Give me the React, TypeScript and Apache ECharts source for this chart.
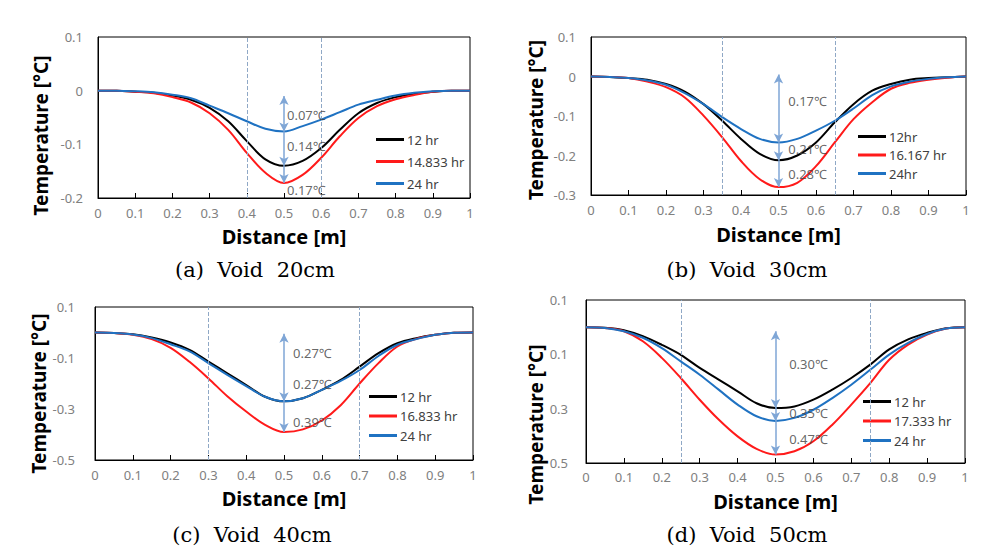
import React, { useEffect, useRef } from "react";
import * as echarts from "echarts";

// Distance positions [m]
const xs = [0, 0.05, 0.1, 0.15, 0.2, 0.25, 0.3, 0.35, 0.4, 0.45, 0.5, 0.55, 0.6, 0.65, 0.7, 0.75, 0.8, 0.85, 0.9, 0.95, 1];

// (a) Void 20cm
const aNames = ["12 hr", "14.833 hr", "24 hr"];
const a12 = [0, 0, -0.002, -0.004, -0.009, -0.017, -0.032, -0.057, -0.094, -0.128, -0.14, -0.131, -0.107, -0.073, -0.042, -0.023, -0.012, -0.006, -0.002, 0, 0];
const a14 = [0, 0, -0.002, -0.005, -0.012, -0.022, -0.042, -0.073, -0.116, -0.153, -0.172, -0.157, -0.125, -0.085, -0.051, -0.029, -0.016, -0.008, -0.002, 0, 0];
const a24 = [0, 0, -0.001, -0.003, -0.0075, -0.014, -0.028, -0.042, -0.057, -0.071, -0.076, -0.066, -0.054, -0.04, -0.026, -0.017, -0.009, -0.004, -0.001, 0, 0];
const aVoid = [0.4, 0.6];
const aNotes = ["0.07℃", "0.14℃", "0.17℃"];
const aNoteAt = [[0.508, -0.045], [0.508, -0.104], [0.508, -0.186]];

// (b) Void 30cm
const bNames = ["12hr", "16.167 hr", "24hr"];
const b12 = [0, -0.001, -0.004, -0.008, -0.019, -0.038, -0.07, -0.112, -0.158, -0.196, -0.212, -0.2, -0.167, -0.116, -0.07, -0.036, -0.019, -0.008, -0.004, -0.002, 0];
const b16 = [0, -0.001, -0.004, -0.013, -0.027, -0.053, -0.099, -0.154, -0.214, -0.26, -0.28, -0.269, -0.227, -0.167, -0.108, -0.065, -0.031, -0.016, -0.008, -0.003, 0];
const b24 = [0, -0.001, -0.004, -0.01, -0.021, -0.042, -0.07, -0.103, -0.133, -0.158, -0.167, -0.158, -0.137, -0.112, -0.081, -0.047, -0.025, -0.013, -0.006, -0.002, 0];
const bVoid = [0.35, 0.65];
const bNotes = ["0.17℃", "0.21℃", "0.28℃"];
const bNoteAt = [[0.526, -0.061], [0.526, -0.184], [0.526, -0.247]];

// (c) Void 40cm
const cNames = ["12 hr", "16.833 hr", "24 hr"];
const c12 = [0, -0.002, -0.007, -0.02, -0.039, -0.068, -0.114, -0.16, -0.206, -0.252, -0.27, -0.258, -0.225, -0.186, -0.134, -0.081, -0.042, -0.022, -0.009, -0.001, 0];
const c16 = [0, -0.002, -0.009, -0.026, -0.06, -0.115, -0.18, -0.25, -0.31, -0.362, -0.39, -0.38, -0.345, -0.285, -0.2, -0.12, -0.055, -0.025, -0.009, -0.001, 0];
const c24 = [0, -0.002, -0.008, -0.022, -0.046, -0.074, -0.12, -0.166, -0.21, -0.252, -0.27, -0.258, -0.225, -0.19, -0.147, -0.092, -0.048, -0.026, -0.009, -0.001, 0];
const cVoid = [0.3, 0.7];
const cNotes = ["0.27℃", "0.27℃", "0.39℃"];
const cNoteAt = [[0.524, -0.081], [0.524, -0.2], [0.524, -0.35]];

// (d) Void 50cm
const dNames = ["12 hr", "17.333 hr", "24 hr"];
const d12 = [0, -0.002, -0.011, -0.033, -0.065, -0.102, -0.15, -0.193, -0.236, -0.28, -0.298, -0.292, -0.267, -0.23, -0.187, -0.138, -0.082, -0.045, -0.021, -0.004, 0];
const d17 = [0, -0.003, -0.015, -0.052, -0.113, -0.187, -0.267, -0.34, -0.402, -0.448, -0.469, -0.457, -0.42, -0.359, -0.285, -0.206, -0.12, -0.064, -0.027, -0.005, 0];
const d24 = [0, -0.003, -0.015, -0.039, -0.077, -0.126, -0.175, -0.23, -0.285, -0.328, -0.345, -0.334, -0.304, -0.261, -0.212, -0.157, -0.101, -0.058, -0.025, -0.005, 0];
const dVoid = [0.25, 0.75];
const dNotes = ["0.30℃", "0.35℃", "0.47℃"];
const dNoteAt = [[0.536, -0.134], [0.536, -0.315], [0.536, -0.413]];

const captions = ["(a)  Void  20cm", "(b)  Void  30cm", "(c)  Void  40cm", "(d)  Void  50cm"];
const arrowTop = [-0.01, 0.005, -0.005, -0.015];
const xTicks = { min: 0, max: 1, interval: 0.1 };
const yRanges = [
  { min: -0.2, max: 0.1, interval: 0.1 },
  { min: -0.3, max: 0.1, interval: 0.1 },
  { min: -0.5, max: 0.1, interval: 0.2 },
  { min: -0.5, max: 0.1, interval: 0.2 },
];

const COLORS = ["#000000", "#ff1a1a", "#1f72c2"];
const SANS = "'Noto Sans', 'Noto Sans CJK KR', sans-serif";

export default function App() {
  const ref = useRef<HTMLDivElement>(null);
  useEffect(() => {
    if (!ref.current) return;
    const chart = echarts.init(ref.current, null, { renderer: "svg" });

    const panels = [
      { names: aNames, data: [a12, a14, a24], voids: aVoid, notes: aNotes, noteAt: aNoteAt,
        grid: { left: 98, top: 37, width: 372, height: 161 },
        legend: { left: 376, top: 133, gap: 9 }, yGap: 48, yPad: 36, xGap: 28, xLabMargin: 8, yLabMargin: 15, abs: false },
      { names: bNames, data: [b12, b16, b24], voids: bVoid, notes: bNotes, noteAt: bNoteAt,
        grid: { left: 591, top: 37, width: 375, height: 158 },
        legend: { left: 858, top: 130, gap: 5.5 }, yGap: 46, yPad: 8, xGap: 29, xLabMargin: 8, yLabMargin: 15, abs: false },
      { names: cNames, data: [c12, c16, c24], voids: cVoid, notes: cNotes, noteAt: cNoteAt,
        grid: { left: 95, top: 307, width: 378, height: 153 },
        legend: { left: 369, top: 390, gap: 6.5 }, yGap: 41, yPad: 20, xGap: 28, xLabMargin: 8, yLabMargin: 20, abs: false },
      { names: dNames, data: [d12, d17, d24], voids: dVoid, notes: dNotes, noteAt: dNoteAt,
        grid: { left: 586, top: 300, width: 379, height: 163 },
        legend: { left: 863, top: 395, gap: 6.5 }, yGap: 37, yPad: 86, xGap: 28, xLabMargin: 7, yLabMargin: 18, abs: true },
    ];
    const captionPos = [[255, 270], [747, 270], [252, 535], [747, 535]];

    const grid: any[] = [];
    const xAxis: any[] = [];
    const yAxis: any[] = [];
    const series: any[] = [];
    const legend: any[] = [];
    const graphic: any[] = [];

    panels.forEach((p, gi) => {
      grid.push({ ...p.grid, show: true, borderColor: "#000", borderWidth: 1, backgroundColor: "transparent" });
      xAxis.push({
        type: "value", gridIndex: gi, ...xTicks,
        name: "Distance [m]", nameLocation: "middle", nameGap: p.xGap,
        nameTextStyle: { fontFamily: SANS, fontWeight: "bold", fontSize: 20, color: "#000" },
        axisLine: { show: true, onZero: false, lineStyle: { color: "#000", width: 1 } },
        axisTick: { show: true, inside: true, length: 5, lineStyle: { color: "#000" } },
        axisLabel: { fontFamily: SANS, fontSize: 13, color: "#808080", margin: p.xLabMargin },
        splitLine: { show: false },
      });
      yAxis.push({
        type: "value", gridIndex: gi, ...yRanges[gi],
        name: "Temperature [°C]", nameLocation: "middle", nameGap: p.yGap,
        nameTextStyle: { fontFamily: SANS, fontWeight: "bold", fontSize: 19, color: "#000", padding: [0, p.yPad, 0, 0] },
        axisLine: { show: true, onZero: false, lineStyle: { color: "#000", width: 1 } },
        axisTick: { show: false },
        axisLabel: {
          fontFamily: SANS, fontSize: 13, color: "#808080", margin: p.yLabMargin,
          formatter: (v: number) => {
            const r = Math.round(v * 10) / 10;
            return String(p.abs ? Math.abs(r) : r);
          },
        },
        splitLine: { show: false },
      });

      const mins = p.data.map((d) => Math.min(...d));
      const order = mins.slice().sort((u, v) => v - u);
      const stops = order.filter((v, i) => i === 0 || Math.abs(v - order[i - 1]) > 1e-6);
      const arrowSegs: any[] = [];
      let prev = arrowTop[gi];
      stops.forEach((m, i) => {
        arrowSegs.push([
          { coord: [0.5, prev], symbol: i === 0 ? "arrow" : "none" },
          { coord: [0.5, m], symbol: "arrow" },
        ]);
        prev = m;
      });

      p.names.forEach((nm, si) => {
        const s: any = {
          type: "line", name: nm, xAxisIndex: gi, yAxisIndex: gi,
          data: p.data[si].map((y, i) => [xs[i], y]),
          smooth: 0.35, symbol: "none", showSymbol: false,
          lineStyle: { color: COLORS[si], width: 2 }, itemStyle: { color: COLORS[si] },
          z: 2,
        };
        if (si === 0) {
          s.markLine = {
            silent: true, symbol: "none", label: { show: false },
            lineStyle: { type: "dashed", color: "#8fa8c6", width: 1 },
            data: p.voids.map((v) => ({ xAxis: v })),
          };
        }
        if (si === 2) {
          s.markLine = {
            silent: true, symbolSize: [7, 9], label: { show: false },
            lineStyle: { type: "solid", color: "#7fa6d6", width: 1.5 },
            itemStyle: { color: "#7fa6d6" },
            emphasis: { disabled: true },
            data: arrowSegs,
          };
        }
        series.push(s);
      });

      series.push({
        type: "scatter", name: "notes" + gi, xAxisIndex: gi, yAxisIndex: gi, silent: true,
        symbolSize: 0, z: 5,
        data: p.notes.map((t, i) => ({ value: p.noteAt[i], name: t })),
        label: { show: true, formatter: "{b}", position: "right", distance: 0, fontFamily: SANS, fontSize: 13, color: "#404040" },
      });

      legend.push({
        left: p.legend.left, top: p.legend.top, orient: "vertical", padding: 0,
        itemWidth: 28, itemHeight: 3, itemGap: p.legend.gap, icon: "rect",
        selectedMode: false, data: p.names,
        textStyle: { fontFamily: SANS, fontSize: 13, color: "#404040", padding: [0, 0, 0, -2] },
      });

      graphic.push({
        type: "text", x: captionPos[gi][0], y: captionPos[gi][1], silent: true,
        style: { text: captions[gi], fill: "#000", font: "21px 'DejaVu Serif', serif", textAlign: "center", textVerticalAlign: "middle" },
      });
    });

    chart.setOption({
      animation: false,
      backgroundColor: "#ffffff",
      grid, xAxis, yAxis, series, legend, graphic,
    });
    return () => chart.dispose();
  }, []);

  return <div ref={ref} style={{ position: "absolute", left: 0, top: 0, width: 1006, height: 555 }} />;
}
